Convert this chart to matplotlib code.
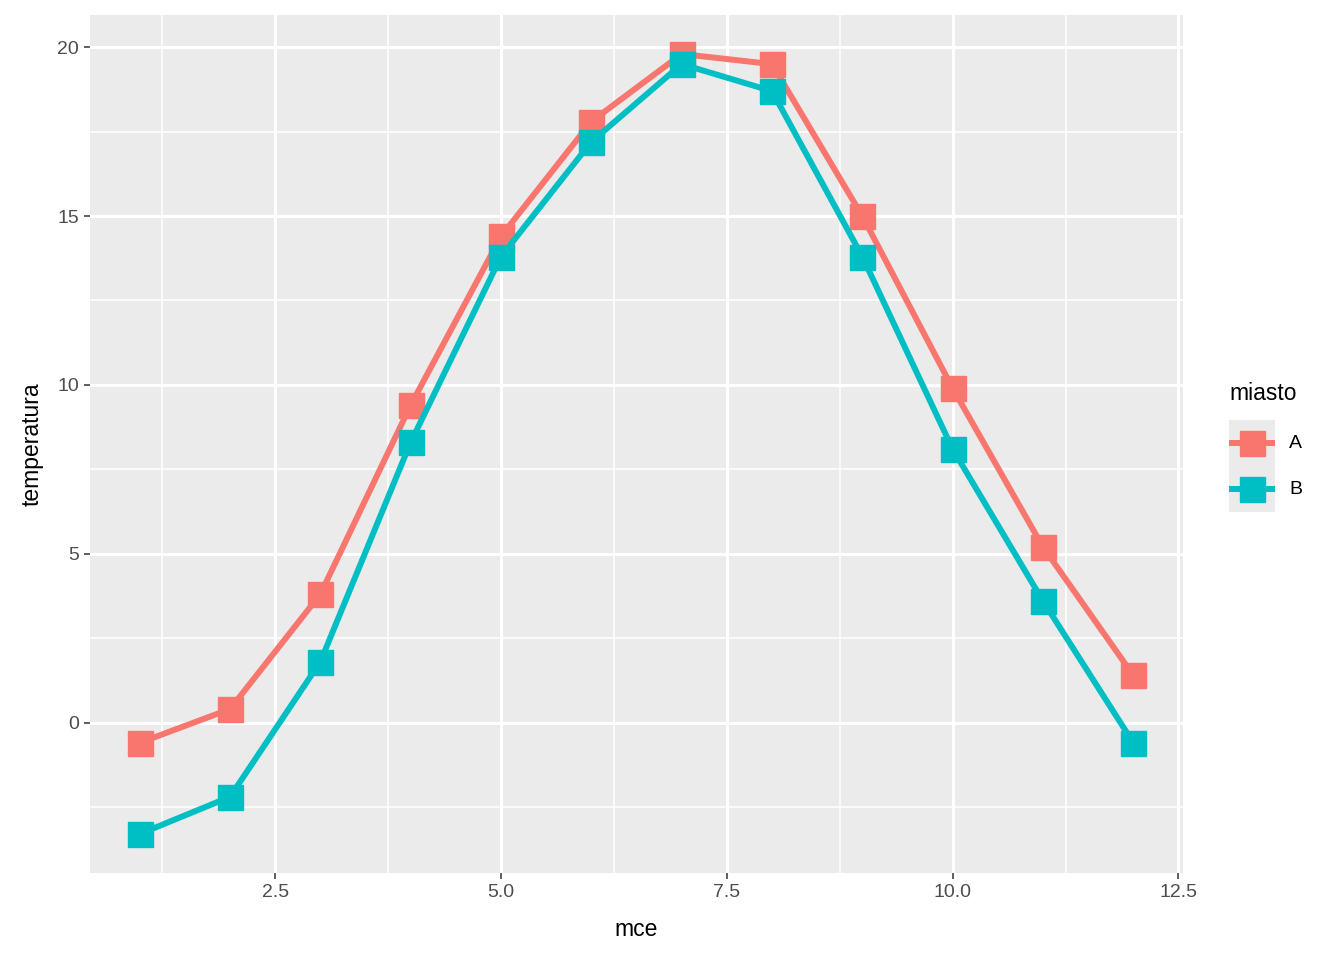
import numpy as np
import matplotlib.pyplot as plt
from matplotlib.lines import Line2D

plt.rcParams['font.family'] = ['Liberation Sans', 'DejaVu Sans']

# data
months = [1, 2, 3, 4, 5, 6, 7, 8, 9, 10, 11, 12]
temp_a = [-0.6, 0.4, 3.8, 9.4, 14.4, 17.8, 19.8, 19.5, 15.0, 9.9, 5.2, 1.4]
temp_b = [-3.3, -2.2, 1.8, 8.3, 13.8, 17.2, 19.5, 18.7, 13.8, 8.1, 3.6, -0.6]
cities = ['A', 'B']
colors = ['#F8766D', '#00BFC4']

x_ticks = [2.5, 5.0, 7.5, 10.0, 12.5]
y_ticks = [0, 5, 10, 15, 20]

fig = plt.figure(figsize=(13.44, 9.6), dpi=100)
ax = fig.add_axes([90 / 1344, 87 / 960, 1093 / 1344, 858 / 960])
ax.set_facecolor('#EBEBEB')

for vals, col in zip([temp_a, temp_b], colors):
    ax.plot(months, vals, color=col, lw=4.3, marker='s', ms=18, zorder=3)

ax.set_xlim(0.45, 12.55)
ax.set_ylim(-4.455, 20.955)
ax.set_xticks(x_ticks)
ax.set_xticklabels([f'{t:.1f}' for t in x_ticks])
ax.set_yticks(y_ticks)
ax.set_xticks([1.25, 3.75, 6.25, 8.75, 11.25], minor=True)
ax.set_yticks([-2.5, 2.5, 7.5, 12.5, 17.5], minor=True)
ax.grid(which='major', color='white', lw=2.2)
ax.grid(which='minor', color='white', lw=1.1)
ax.set_axisbelow(True)
for s in ax.spines.values():
    s.set_visible(False)
ax.tick_params(which='major', length=4, width=1.1, color='#333333',
               labelsize=14, labelcolor='#4D4D4D', pad=4)
ax.tick_params(which='minor', length=0)
ax.set_xlabel('mce', fontsize=16.5, labelpad=12)
ax.set_ylabel('temperatura', fontsize=16.5, labelpad=10)

# legend drawn by hand, ggplot style
lax = fig.add_axes([1229 / 1344, (960 - 512) / 960, 46 / 1344, 92 / 960])
lax.set_facecolor('#EBEBEB')
lax.set_xlim(0, 1)
lax.set_ylim(0, 2)
for i, col in enumerate(colors):
    yy = 1.5 - i
    lax.add_line(Line2D([0.05, 0.95], [yy, yy], color=col, lw=4.3))
    lax.plot([0.5], [yy], marker='s', ms=18, color=col)
    fig.text(1289 / 1344, (960 - 444 - 46 * i) / 960, cities[i],
             fontsize=14, va='center', ha='left')
lax.set_xticks([])
lax.set_yticks([])
for s in lax.spines.values():
    s.set_visible(False)
fig.text(1229 / 1344, (960 - 393) / 960, 'miasto', fontsize=16.5,
         va='center', ha='left')

fig.savefig('out.png', dpi=100, facecolor='white')
